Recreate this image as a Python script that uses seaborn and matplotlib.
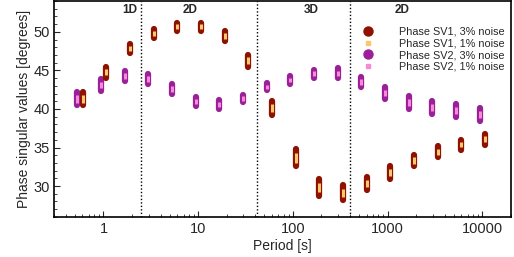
import numpy as np
import pandas as pd
import matplotlib
matplotlib.use("Agg")
import matplotlib.pyplot as plt
from matplotlib.lines import Line2D
from matplotlib.ticker import MultipleLocator, LogLocator, NullFormatter, FixedLocator, FixedFormatter
import seaborn as sns

# Periods [s]
periods = [0.5623, 1.0, 1.778, 3.162, 5.623, 10.0, 17.78, 31.62, 56.23,
           100.0, 177.8, 316.2, 562.3, 1000.0, 1778.0, 3162.0, 5623.0, 10000.0]

sv1_3_low  = [40.45, 44.08, 47.23, 49.26, 50.13, 50.13, 48.83, 45.50, 39.16,
              32.55, 28.67, 28.15, 29.44, 30.91, 32.55, 33.76, 34.72, 35.36]
sv1_3_high = [42.14, 45.47, 48.48, 50.34, 51.20, 51.20, 50.13, 47.02, 41.06,
              34.79, 30.91, 30.13, 31.13, 32.55, 34.07, 35.14, 36.01, 36.74]
sv1_1_low  = [40.83, 44.40, 47.52, 49.50, 50.37, 50.37, 49.12, 45.84, 39.59,
              33.05, 29.17, 28.60, 29.82, 31.28, 32.89, 34.07, 35.01, 35.67]
sv1_1_high = [41.77, 45.16, 48.20, 50.10, 50.97, 50.97, 49.84, 46.68, 40.63,
              34.30, 30.41, 29.68, 30.76, 32.18, 33.73, 34.83, 35.73, 36.43]

sv2_3_low  = [40.45, 42.36, 43.65, 43.21, 41.92, 40.41, 40.03, 40.88, 42.40,
              43.26, 44.08, 43.99, 42.82, 41.32, 40.03, 39.38, 38.90, 38.47]
sv2_3_high = [42.14, 43.86, 44.95, 44.51, 43.21, 41.58, 41.14, 41.84, 43.34,
              44.30, 45.08, 45.25, 44.21, 42.79, 41.62, 40.97, 40.62, 40.19]
sv2_1_low  = [40.83, 42.70, 43.94, 43.50, 42.21, 40.68, 40.28, 41.09, 42.61,
              43.49, 44.30, 44.27, 43.14, 41.66, 40.39, 39.74, 39.29, 38.86]
sv2_1_high = [41.77, 43.52, 44.66, 44.22, 42.93, 41.32, 40.90, 41.63, 43.13,
              44.07, 44.86, 44.97, 43.90, 42.46, 41.27, 40.62, 40.23, 39.80]

dim_bounds = [2.5, 42.0, 400.0]
dim_labels = ["1D", "2D", "3D", "2D"]
dim_label_x = [1.9, 8.3, 156.0, 1430.0]

legend_labels = ["Phase SV1, 3% noise", "Phase SV1, 1% noise",
                 "Phase SV2, 3% noise", "Phase SV2, 1% noise"]

c_sv1 = "#8f1100"
c_sv1_in = "#f8c76e"
c_sv2 = "#9c1f9a"
c_sv2_in = "#f58ad6"

sns.set_style("ticks")
plt.rcParams["font.family"] = ["Liberation Sans", "DejaVu Sans"]

fig = plt.figure(figsize=(5.14, 2.57), dpi=100)
ax = fig.add_axes([0.105, 0.156, 0.889, 0.840])


def make_df(lows, highs, shift):
    rows = []
    for i, (p, lo, hi) in enumerate(zip(periods, lows, highs)):
        rows.append({"id": i, "period": p * shift, "phase": lo})
        rows.append({"id": i, "period": p * shift, "phase": hi})
    return pd.DataFrame(rows)


shift1 = 1.07
shift2 = 1 / 1.065

specs = [
    (sv2_3_low, sv2_3_high, shift2, c_sv2, 4.5, "round"),
    (sv2_1_low, sv2_1_high, shift2, c_sv2_in, 2.2, "butt"),
    (sv1_3_low, sv1_3_high, shift1, c_sv1, 4.5, "round"),
    (sv1_1_low, sv1_1_high, shift1, c_sv1_in, 2.2, "butt"),
]
for lo, hi, sh, col, lw, cap in specs:
    df = make_df(lo, hi, sh)
    sns.lineplot(data=df, x="period", y="phase", units="id", estimator=None,
                 color=col, lw=lw, solid_capstyle=cap, sort=False, ax=ax,
                 legend=False)

for b in dim_bounds:
    ax.axvline(b, color="black", ls=(0, (1, 1.5)), lw=1.0, zorder=1)

for lab, xx in zip(dim_labels, dim_label_x):
    ax.text(xx, 52.85, lab, ha="center", va="center", fontsize=8.5,
            fontweight="bold")

ax.set_xscale("log")
ax.set_xlim(0.3, 20000)
ax.set_ylim(26, 54)
ax.xaxis.set_major_locator(FixedLocator([1, 10, 100, 1000, 10000]))
ax.xaxis.set_major_formatter(FixedFormatter(["1", "10", "100", "1000", "10000"]))
ax.xaxis.set_minor_locator(LogLocator(base=10, subs=np.arange(2, 10)))
ax.xaxis.set_minor_formatter(NullFormatter())
ax.yaxis.set_major_locator(MultipleLocator(5))
ax.yaxis.set_minor_locator(MultipleLocator(1))
ax.set_yticks([30, 35, 40, 45, 50])
ax.tick_params(axis="both", which="major", direction="in", length=4,
               width=0.8, labelsize=10.5)
ax.tick_params(axis="x", which="major", pad=4)
ax.tick_params(axis="y", which="major", pad=3)
ax.tick_params(axis="both", which="minor", direction="in", length=2,
               width=0.6)

for s in ax.spines.values():
    s.set_visible(True)
    s.set_linewidth(1.2)
    s.set_color("black")

ax.set_xlabel("Period [s]", fontsize=10, labelpad=2)
ax.set_ylabel("Phase singular values [degrees]", fontsize=10, labelpad=2)

handles = [
    Line2D([], [], ls="none", marker="o", ms=6.5, color=c_sv1),
    Line2D([], [], ls="none", marker="s", ms=2.5, color=c_sv1_in),
    Line2D([], [], ls="none", marker="o", ms=6.5, color=c_sv2),
    Line2D([], [], ls="none", marker="s", ms=2.5, color=c_sv2_in),
]
leg = ax.legend(handles, legend_labels, loc="upper right",
                bbox_to_anchor=(1.0, 0.91), frameon=False, fontsize=7.8,
                labelspacing=0.15, handletextpad=1.8, borderaxespad=0.2,
                markerfirst=True)

fig.savefig("out.png", dpi=100)
